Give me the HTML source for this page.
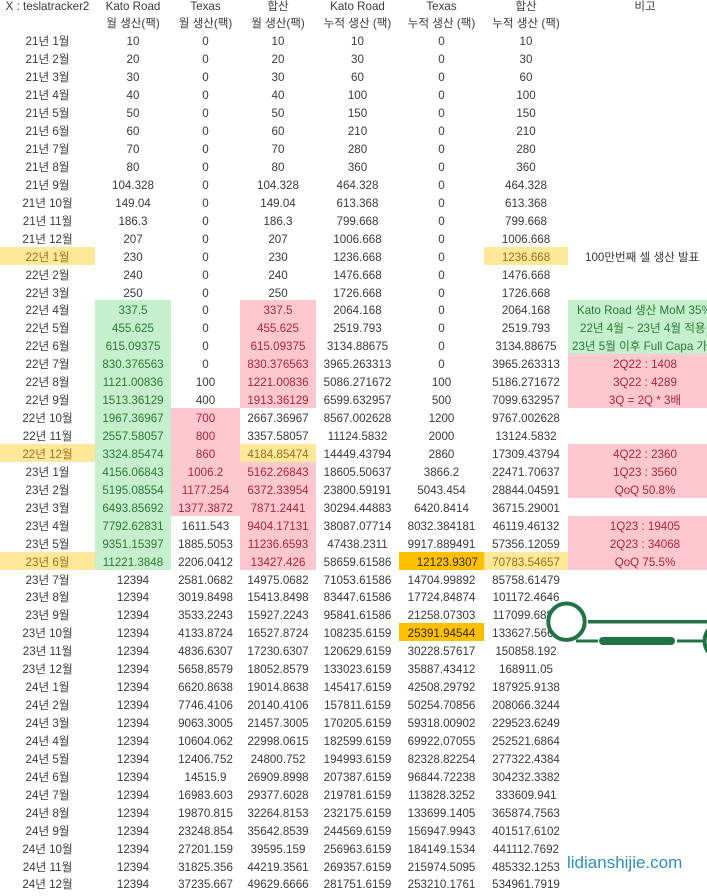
<!DOCTYPE html>
<html>
<head>
<meta charset="utf-8">
<style>
html,body{margin:0;padding:0;}
body{width:707px;height:895px;overflow:hidden;background:#fff;position:relative;
font-family:"Liberation Sans","Noto Sans CJK KR",sans-serif;font-size:11.6px;color:#3a3a3a;}
#t{position:absolute;left:0;top:-4.48px;}
.r{display:flex;height:17.94px;}
.c{height:17.94px;line-height:21.2px;text-align:center;white-space:nowrap;flex:none;}
.a{width:95px}.b{width:76px}.cc{width:69px}.d{width:76px}.e{width:83px}.f{width:85px}.g{width:84px}.h{width:154px}
.gr{background:#c6efce;color:#2a7a32}
.pk{background:#ffc7ce;color:#a8283a}
.yl{background:#ffe89a;color:#9c7020}
.or{background:#ffc000;color:#3a2a00;text-align:right;box-sizing:border-box;padding-right:6px}
.lt{text-align:left;box-sizing:border-box}
#wm{position:absolute;left:567px;top:852px;font-size:17px;line-height:21px;color:#2e8fb8;
text-shadow:0 0 2px #fff,0 0 2px #fff;font-family:"Liberation Sans",sans-serif;}
svg{position:absolute;left:0;top:0}
</style>
</head>
<body>
<div id="t">
<div class="r"><div class="c a">X : teslatracker2</div><div class="c b">Kato Road</div><div class="c cc">Texas</div><div class="c d">합산</div><div class="c e">Kato Road</div><div class="c f">Texas</div><div class="c g">합산</div><div class="c h">비고</div></div>
<div class="r"><div class="c a"></div><div class="c b">월 생산(팩)</div><div class="c cc">월 생산(팩)</div><div class="c d">월 생산(팩)</div><div class="c e">누적 생산 (팩)</div><div class="c f">누적 생산 (팩)</div><div class="c g">누적 생산 (팩)</div><div class="c h"></div></div>

<div class="r"><div class="c a">21년 1월</div><div class="c b">10</div><div class="c cc">0</div><div class="c d">10</div><div class="c e">10</div><div class="c f">0</div><div class="c g">10</div></div>
<div class="r"><div class="c a">21년 2월</div><div class="c b">20</div><div class="c cc">0</div><div class="c d">20</div><div class="c e">30</div><div class="c f">0</div><div class="c g">30</div></div>
<div class="r"><div class="c a">21년 3월</div><div class="c b">30</div><div class="c cc">0</div><div class="c d">30</div><div class="c e">60</div><div class="c f">0</div><div class="c g">60</div></div>
<div class="r"><div class="c a">21년 4월</div><div class="c b">40</div><div class="c cc">0</div><div class="c d">40</div><div class="c e">100</div><div class="c f">0</div><div class="c g">100</div></div>
<div class="r"><div class="c a">21년 5월</div><div class="c b">50</div><div class="c cc">0</div><div class="c d">50</div><div class="c e">150</div><div class="c f">0</div><div class="c g">150</div></div>
<div class="r"><div class="c a">21년 6월</div><div class="c b">60</div><div class="c cc">0</div><div class="c d">60</div><div class="c e">210</div><div class="c f">0</div><div class="c g">210</div></div>
<div class="r"><div class="c a">21년 7월</div><div class="c b">70</div><div class="c cc">0</div><div class="c d">70</div><div class="c e">280</div><div class="c f">0</div><div class="c g">280</div></div>
<div class="r"><div class="c a">21년 8월</div><div class="c b">80</div><div class="c cc">0</div><div class="c d">80</div><div class="c e">360</div><div class="c f">0</div><div class="c g">360</div></div>
<div class="r"><div class="c a">21년 9월</div><div class="c b">104.328</div><div class="c cc">0</div><div class="c d">104.328</div><div class="c e">464.328</div><div class="c f">0</div><div class="c g">464.328</div></div>
<div class="r"><div class="c a">21년 10월</div><div class="c b">149.04</div><div class="c cc">0</div><div class="c d">149.04</div><div class="c e">613.368</div><div class="c f">0</div><div class="c g">613.368</div></div>
<div class="r"><div class="c a">21년 11월</div><div class="c b">186.3</div><div class="c cc">0</div><div class="c d">186.3</div><div class="c e">799.668</div><div class="c f">0</div><div class="c g">799.668</div></div>
<div class="r"><div class="c a">21년 12월</div><div class="c b">207</div><div class="c cc">0</div><div class="c d">207</div><div class="c e">1006.668</div><div class="c f">0</div><div class="c g">1006.668</div></div>
<div class="r"><div class="c a yl">22년 1월</div><div class="c b">230</div><div class="c cc">0</div><div class="c d">230</div><div class="c e">1236.668</div><div class="c f">0</div><div class="c g yl">1236.668</div><div class="c h lt" style="padding-left:17px">100만번째 셀 생산 발표</div></div>
<div class="r"><div class="c a">22년 2월</div><div class="c b">240</div><div class="c cc">0</div><div class="c d">240</div><div class="c e">1476.668</div><div class="c f">0</div><div class="c g">1476.668</div></div>
<div class="r"><div class="c a">22년 3월</div><div class="c b">250</div><div class="c cc">0</div><div class="c d">250</div><div class="c e">1726.668</div><div class="c f">0</div><div class="c g">1726.668</div></div>
<div class="r"><div class="c a">22년 4월</div><div class="c b gr">337.5</div><div class="c cc">0</div><div class="c d pk">337.5</div><div class="c e">2064.168</div><div class="c f">0</div><div class="c g">2064.168</div><div class="c h gr lt" style="padding-left:9px">Kato Road 생산 MoM 35% 가정</div></div>
<div class="r"><div class="c a">22년 5월</div><div class="c b gr">455.625</div><div class="c cc">0</div><div class="c d pk">455.625</div><div class="c e">2519.793</div><div class="c f">0</div><div class="c g">2519.793</div><div class="c h gr lt" style="padding-left:12px">22년 4월 ~ 23년 4월 적용</div></div>
<div class="r"><div class="c a">22년 6월</div><div class="c b gr">615.09375</div><div class="c cc">0</div><div class="c d pk">615.09375</div><div class="c e">3134.88675</div><div class="c f">0</div><div class="c g">3134.88675</div><div class="c h gr lt" style="padding-left:4px">23년 5월 이후 Full Capa 가정</div></div>
<div class="r"><div class="c a">22년 7월</div><div class="c b gr">830.376563</div><div class="c cc">0</div><div class="c d pk">830.376563</div><div class="c e">3965.263313</div><div class="c f">0</div><div class="c g">3965.263313</div><div class="c h pk">2Q22 : 1408</div></div>
<div class="r"><div class="c a">22년 8월</div><div class="c b gr">1121.00836</div><div class="c cc">100</div><div class="c d pk">1221.00836</div><div class="c e">5086.271672</div><div class="c f">100</div><div class="c g">5186.271672</div><div class="c h pk">3Q22 : 4289</div></div>
<div class="r"><div class="c a">22년 9월</div><div class="c b gr">1513.36129</div><div class="c cc">400</div><div class="c d pk">1913.36129</div><div class="c e">6599.632957</div><div class="c f">500</div><div class="c g">7099.632957</div><div class="c h pk">3Q = 2Q * 3배</div></div>
<div class="r"><div class="c a">22년 10월</div><div class="c b gr">1967.36967</div><div class="c cc pk">700</div><div class="c d">2667.36967</div><div class="c e">8567.002628</div><div class="c f">1200</div><div class="c g">9767.002628</div></div>
<div class="r"><div class="c a">22년 11월</div><div class="c b gr">2557.58057</div><div class="c cc pk">800</div><div class="c d">3357.58057</div><div class="c e">11124.5832</div><div class="c f">2000</div><div class="c g">13124.5832</div></div>
<div class="r"><div class="c a yl">22년 12월</div><div class="c b gr">3324.85474</div><div class="c cc pk">860</div><div class="c d yl">4184.85474</div><div class="c e">14449.43794</div><div class="c f">2860</div><div class="c g">17309.43794</div><div class="c h pk">4Q22 : 2360</div></div>
<div class="r"><div class="c a">23년 1월</div><div class="c b gr">4156.06843</div><div class="c cc pk">1006.2</div><div class="c d pk">5162.26843</div><div class="c e">18605.50637</div><div class="c f">3866.2</div><div class="c g">22471.70637</div><div class="c h pk">1Q23 : 3560</div></div>
<div class="r"><div class="c a">23년 2월</div><div class="c b gr">5195.08554</div><div class="c cc pk">1177.254</div><div class="c d pk">6372.33954</div><div class="c e">23800.59191</div><div class="c f">5043.454</div><div class="c g">28844.04591</div><div class="c h pk">QoQ 50.8%</div></div>
<div class="r"><div class="c a">23년 3월</div><div class="c b gr">6493.85692</div><div class="c cc pk">1377.3872</div><div class="c d pk">7871.2441</div><div class="c e">30294.44883</div><div class="c f">6420.8414</div><div class="c g">36715.29001</div></div>
<div class="r"><div class="c a">23년 4월</div><div class="c b gr">7792.62831</div><div class="c cc">1611.543</div><div class="c d pk">9404.17131</div><div class="c e">38087.07714</div><div class="c f">8032.384181</div><div class="c g">46119.46132</div><div class="c h pk">1Q23 : 19405</div></div>
<div class="r"><div class="c a">23년 5월</div><div class="c b gr">9351.15397</div><div class="c cc">1885.5053</div><div class="c d pk">11236.6593</div><div class="c e">47438.2311</div><div class="c f">9917.889491</div><div class="c g">57356.12059</div><div class="c h pk">2Q23 : 34068</div></div>
<div class="r"><div class="c a yl">23년 6월</div><div class="c b gr">11221.3848</div><div class="c cc">2206.0412</div><div class="c d pk">13427.426</div><div class="c e">58659.61586</div><div class="c f or">12123.9307</div><div class="c g yl">70783.54657</div><div class="c h pk">QoQ 75.5%</div></div>
<div class="r"><div class="c a">23년 7월</div><div class="c b">12394</div><div class="c cc">2581.0682</div><div class="c d">14975.0682</div><div class="c e">71053.61586</div><div class="c f">14704.99892</div><div class="c g">85758.61479</div></div>
<div class="r"><div class="c a">23년 8월</div><div class="c b">12394</div><div class="c cc">3019.8498</div><div class="c d">15413.8498</div><div class="c e">83447.61586</div><div class="c f">17724.84874</div><div class="c g">101172.4646</div></div>
<div class="r"><div class="c a">23년 9월</div><div class="c b">12394</div><div class="c cc">3533.2243</div><div class="c d">15927.2243</div><div class="c e">95841.61586</div><div class="c f">21258.07303</div><div class="c g">117099.6889</div></div>
<div class="r"><div class="c a">23년 10월</div><div class="c b">12394</div><div class="c cc">4133.8724</div><div class="c d">16527.8724</div><div class="c e">108235.6159</div><div class="c f or" style="text-align:center;padding-right:0">25391.94544</div><div class="c g">133627.5661</div></div>
<div class="r"><div class="c a">23년 11월</div><div class="c b">12394</div><div class="c cc">4836.6307</div><div class="c d">17230.6307</div><div class="c e">120629.6159</div><div class="c f">30228.57617</div><div class="c g">150858.192</div></div>
<div class="r"><div class="c a">23년 12월</div><div class="c b">12394</div><div class="c cc">5658.8579</div><div class="c d">18052.8579</div><div class="c e">133023.6159</div><div class="c f">35887.43412</div><div class="c g">168911.05</div></div>
<div class="r"><div class="c a">24년 1월</div><div class="c b">12394</div><div class="c cc">6620.8638</div><div class="c d">19014.8638</div><div class="c e">145417.6159</div><div class="c f">42508.29792</div><div class="c g">187925.9138</div></div>
<div class="r"><div class="c a">24년 2월</div><div class="c b">12394</div><div class="c cc">7746.4106</div><div class="c d">20140.4106</div><div class="c e">157811.6159</div><div class="c f">50254.70856</div><div class="c g">208066.3244</div></div>
<div class="r"><div class="c a">24년 3월</div><div class="c b">12394</div><div class="c cc">9063.3005</div><div class="c d">21457.3005</div><div class="c e">170205.6159</div><div class="c f">59318.00902</div><div class="c g">229523.6249</div></div>
<div class="r"><div class="c a">24년 4월</div><div class="c b">12394</div><div class="c cc">10604.062</div><div class="c d">22998.0615</div><div class="c e">182599.6159</div><div class="c f">69922.07055</div><div class="c g">252521.6864</div></div>
<div class="r"><div class="c a">24년 5월</div><div class="c b">12394</div><div class="c cc">12406.752</div><div class="c d">24800.752</div><div class="c e">194993.6159</div><div class="c f">82328.82254</div><div class="c g">277322.4384</div></div>
<div class="r"><div class="c a">24년 6월</div><div class="c b">12394</div><div class="c cc">14515.9</div><div class="c d">26909.8998</div><div class="c e">207387.6159</div><div class="c f">96844.72238</div><div class="c g">304232.3382</div></div>
<div class="r"><div class="c a">24년 7월</div><div class="c b">12394</div><div class="c cc">16983.603</div><div class="c d">29377.6028</div><div class="c e">219781.6159</div><div class="c f">113828.3252</div><div class="c g">333609.941</div></div>
<div class="r"><div class="c a">24년 8월</div><div class="c b">12394</div><div class="c cc">19870.815</div><div class="c d">32264.8153</div><div class="c e">232175.6159</div><div class="c f">133699.1405</div><div class="c g">365874.7563</div></div>
<div class="r"><div class="c a">24년 9월</div><div class="c b">12394</div><div class="c cc">23248.854</div><div class="c d">35642.8539</div><div class="c e">244569.6159</div><div class="c f">156947.9943</div><div class="c g">401517.6102</div></div>
<div class="r"><div class="c a">24년 10월</div><div class="c b">12394</div><div class="c cc">27201.159</div><div class="c d">39595.159</div><div class="c e">256963.6159</div><div class="c f">184149.1534</div><div class="c g">441112.7692</div></div>
<div class="r"><div class="c a">24년 11월</div><div class="c b">12394</div><div class="c cc">31825.356</div><div class="c d">44219.3561</div><div class="c e">269357.6159</div><div class="c f">215974.5095</div><div class="c g">485332.1253</div></div>
<div class="r"><div class="c a">24년 12월</div><div class="c b">12394</div><div class="c cc">37235.667</div><div class="c d">49629.6666</div><div class="c e">281751.6159</div><div class="c f">253210.1761</div><div class="c g">534961.7919</div></div>
</div>

<svg width="707" height="895" viewBox="0 0 707 895">
  <line x1="588" y1="621.7" x2="707" y2="621.7" stroke="#217346" stroke-width="3.5"/>
  <circle cx="566.5" cy="621.7" r="18.2" fill="#fff" stroke="#217346" stroke-width="4"/>
  <line x1="576" y1="641" x2="598" y2="641" stroke="#217346" stroke-width="3"/>
  <rect x="599" y="637" width="76" height="8" rx="4" fill="#217346"/>
  <line x1="677" y1="641" x2="703" y2="641" stroke="#217346" stroke-width="3"/>
  <circle cx="722.8" cy="641" r="18.2" fill="#fff" stroke="#217346" stroke-width="4"/>
</svg>

<div id="wm">lidianshijie.com</div>
</body>
</html>
